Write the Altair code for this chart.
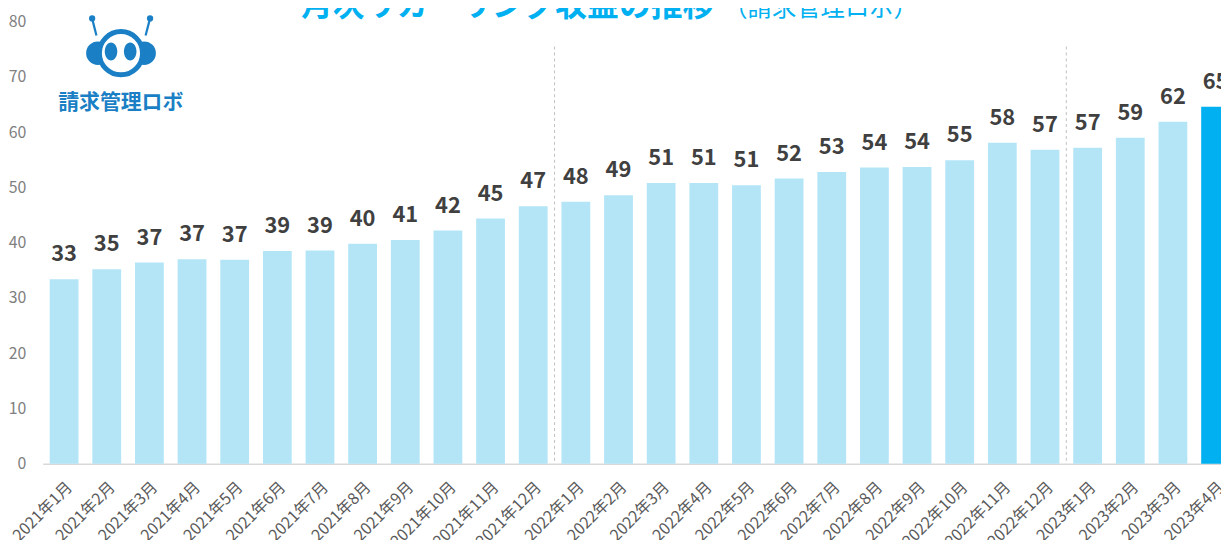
import altair as alt
import pandas as pd

# ---------------- data ----------------
months = [
    "2021年1月", "2021年2月", "2021年3月", "2021年4月", "2021年5月", "2021年6月",
    "2021年7月", "2021年8月", "2021年9月", "2021年10月", "2021年11月", "2021年12月",
    "2022年1月", "2022年2月", "2022年3月", "2022年4月", "2022年5月", "2022年6月",
    "2022年7月", "2022年8月", "2022年9月", "2022年10月", "2022年11月", "2022年12月",
    "2023年1月", "2023年2月", "2023年3月", "2023年4月",
]
revenue = [
    33.4, 35.2, 36.4, 37.0, 36.9, 38.5, 38.6, 39.8, 40.5, 42.2, 44.4, 46.6,
    47.4, 48.6, 50.8, 50.8, 50.4, 51.6, 52.8, 53.6, 53.7, 54.9, 58.1, 56.8,
    57.2, 59.0, 61.9, 64.6,
]
value_labels = [
    "33", "35", "37", "37", "37", "39", "39", "40", "41", "42", "45", "47",
    "48", "49", "51", "51", "51", "52", "53", "54", "54", "55", "58", "57",
    "57", "59", "62", "65",
]
latest_months = ["2023年4月"]
year_starts = ["2022年1月", "2023年1月"]
separator_top = [75.5, 75.5]
y_ticks = [0, 10, 20, 30, 40, 50, 60, 70, 80]

title_main = "月次リカーリング収益の推移"
title_sub = "（請求管理ロボ）"
logo_text = "請求管理ロボ"

# ---------------- styles ----------------
FONT = "Noto Sans CJK JP"
LIGHT = "#B3E5F7"
STRONG = "#00B0F0"
LOGO = "#1a7fc4"
PAD_INNER = 0.325
PAD_OUTER = PAD_INNER / 2
RANGE_W = 1202
STEP = RANGE_W / (len(months) - PAD_INNER + 2 * PAD_OUTER)

df = pd.DataFrame({"month": months, "value": revenue, "label": value_labels})
df["kind"] = ["最新" if m in latest_months else "実績" for m in months]
sep = pd.DataFrame({"month": year_starts, "top": separator_top, "bottom": [0] * len(year_starts)})
one = pd.DataFrame({"t": [logo_text]})

x_scale = alt.Scale(domain=months, paddingInner=PAD_INNER, paddingOuter=PAD_OUTER,
                    range=[0, RANGE_W])
x_axis = alt.Axis(
    labelAngle=-45, labelFontSize=16, labelColor="#595959", labelFont=FONT,
    labelPadding=15, ticks=False, domainColor="#d9d9d9", domainWidth=1.5,
    labelOverlap=False, labelBound=False, title=None,
)
y_scale = alt.Scale(domain=[0, 80], nice=False)
y_axis = alt.Axis(
    values=y_ticks, grid=False, domain=False, ticks=False, labelPadding=17,
    labelFontSize=16, labelColor="#7f7f7f", labelFont=FONT, title=None,
)

x_enc = alt.X("month:N", scale=x_scale, sort=months, axis=x_axis, title=None)

bars = alt.Chart(df).mark_bar().encode(
    x=x_enc,
    y=alt.Y("value:Q", scale=y_scale, axis=y_axis, title=None),
    color=alt.Color("kind:N", scale=alt.Scale(domain=["実績", "最新"], range=[LIGHT, STRONG]),
                    legend=None),
)

labels = alt.Chart(df).mark_text(
    font=FONT, fontSize=22, fontWeight="bold", color="#404040",
    baseline="alphabetic", dy=-18,
).encode(
    x=x_enc,
    y=alt.Y("value:Q", scale=y_scale, axis=y_axis, title=None),
    text="label:N",
)

seps = alt.Chart(sep).mark_rule(
    color="#bfbfbf", strokeDash=[3, 3], strokeWidth=1, xOffset=-PAD_INNER * STEP / 2,
).encode(
    x=alt.X("month:N", scale=x_scale, sort=months, axis=x_axis, title=None, bandPosition=0),
    y=alt.Y("top:Q", scale=y_scale, axis=y_axis, title=None),
    y2="bottom:Q",
)

# ---------------- title (cut off at top, as in the reference) ----------------
t_main = alt.Chart(one).mark_text(
    font=FONT, fontSize=32, fontWeight="bold", color=STRONG, align="left", baseline="alphabetic",
    text=title_main,
).encode(x=alt.value(260), y=alt.value(-6))
t_sub = alt.Chart(one).mark_text(
    font=FONT, fontSize=24.5, fontWeight="normal", color=STRONG, align="left", baseline="alphabetic",
    text=title_sub,
).encode(x=alt.value(685), y=alt.value(-6))

# ---------------- logo ----------------
ant_l = alt.Chart(one).mark_rule(color=LOGO, strokeWidth=2.2).encode(
    x=alt.value(49.7), y=alt.value(-3.3), x2=alt.value(54), y2=alt.value(14))
ant_r = alt.Chart(one).mark_rule(color=LOGO, strokeWidth=2.2).encode(
    x=alt.value(108), y=alt.value(-3.3), x2=alt.value(103.5), y2=alt.value(14))
dot_l = alt.Chart(one).mark_point(shape="circle", filled=True, color=LOGO, size=40, opacity=1).encode(
    x=alt.value(49.7), y=alt.value(-3.3))
dot_r = alt.Chart(one).mark_point(shape="circle", filled=True, color=LOGO, size=40, opacity=1).encode(
    x=alt.value(108), y=alt.value(-3.3))
pad_l = alt.Chart(one).mark_point(shape="circle", filled=True, color=LOGO, size=560, opacity=1).encode(
    x=alt.value(55.5), y=alt.value(31.7))
pad_r = alt.Chart(one).mark_point(shape="circle", filled=True, color=LOGO, size=560, opacity=1).encode(
    x=alt.value(102), y=alt.value(31.7))
head = alt.Chart(one).mark_point(
    shape="circle", filled=True, fill="white", stroke=LOGO, strokeWidth=5, size=1886, opacity=1,
    fillOpacity=1, strokeOpacity=1,
).encode(x=alt.value(78.7), y=alt.value(31.7))
eye_path = "M-0.7,0 A0.7,1 0 1,0 0.7,0 A0.7,1 0 1,0 -0.7,0 Z"
eye_l = alt.Chart(one).mark_point(shape=eye_path, filled=True, color=LOGO, size=324, opacity=1).encode(
    x=alt.value(68.7), y=alt.value(30))
eye_r = alt.Chart(one).mark_point(shape=eye_path, filled=True, color=LOGO, size=324, opacity=1).encode(
    x=alt.value(88), y=alt.value(30))
logo_label = alt.Chart(one).mark_text(
    font=FONT, fontSize=21, fontWeight="bold", color=LOGO, align="center", baseline="middle",
).encode(x=alt.value(78.5), y=alt.value(82), text="t:N")

chart = alt.layer(
    bars, seps, labels, t_main, t_sub,
    ant_l, ant_r, dot_l, dot_r, pad_l, pad_r, head, eye_l, eye_r, logo_label,
).properties(
    width=1186, height=445,
    autosize=alt.AutoSizeParams(type="none"),
    padding={"left": 35, "top": 12, "right": 0, "bottom": 75},
).configure(font=FONT).configure_view(stroke=None)

chart.save("out.html", embed_options={"renderer": "svg", "actions": False})
